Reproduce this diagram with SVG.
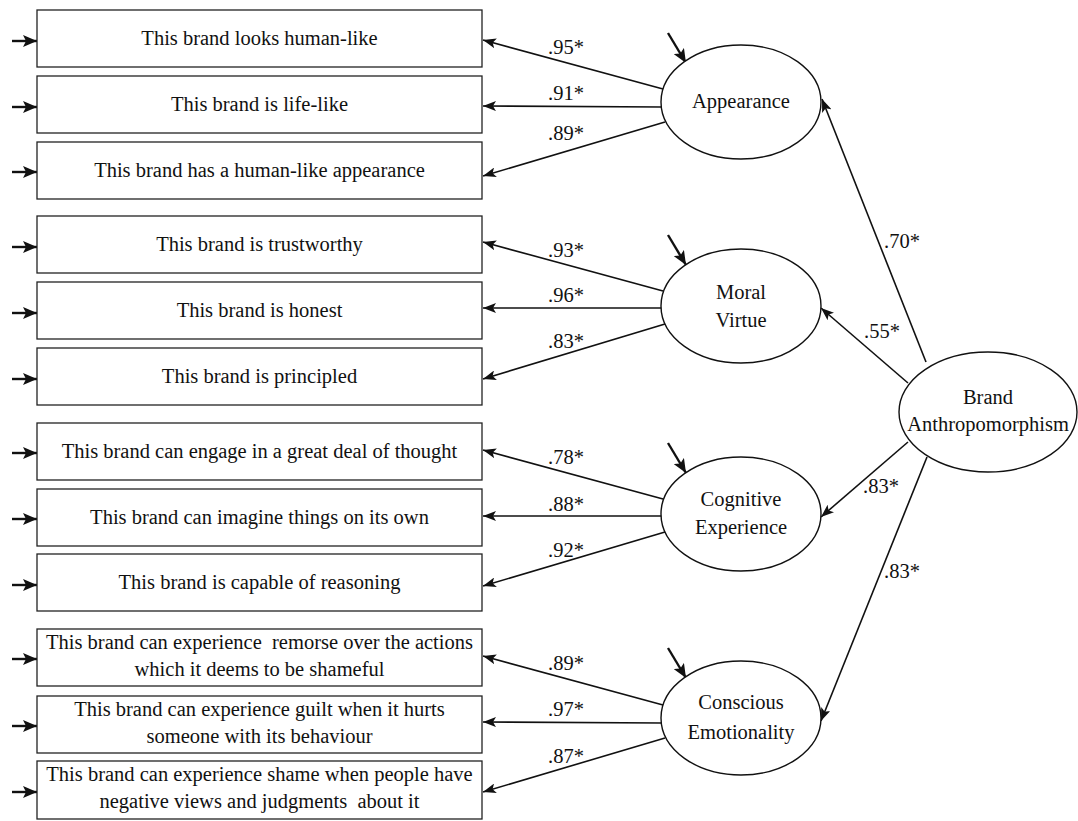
<svg xmlns="http://www.w3.org/2000/svg" width="1078" height="821" viewBox="0 0 1078 821">
<style>
.box{fill:#fff;stroke:#222;stroke-width:1.3}
.ell{fill:#fff;stroke:#111;stroke-width:1.4}
.t{font-family:'Liberation Serif','DejaVu Serif','Noto Serif',serif;font-size:20.5px;fill:#111;text-anchor:middle;white-space:pre}
.lab{font-family:'Liberation Serif','DejaVu Serif','Noto Serif',serif;font-size:20.5px;fill:#111}
.ln{stroke:#111;stroke-width:1.6;fill:none;marker-end:url(#ah)}
.err{stroke:#111;stroke-width:2.4;fill:none;marker-end:url(#ahb)}
</style>
<defs>
<marker id="ah" markerUnits="userSpaceOnUse" markerWidth="14" markerHeight="10" refX="13" refY="5" orient="auto">
<path d="M0,0 L13,5 L0,10 L3,5 z" fill="#111"/>
</marker>
<marker id="ahb" markerUnits="userSpaceOnUse" markerWidth="15" markerHeight="12" refX="14" refY="6" orient="auto">
<path d="M0,0 L14,6 L0,12 L3,6 z" fill="#111"/>
</marker>
</defs>
<rect width="1078" height="821" fill="#fff"/>

<g id="connectors">
<line class="err" x1="12" y1="41" x2="37" y2="41"/>
<line class="err" x1="12" y1="107" x2="37" y2="107"/>
<line class="err" x1="12" y1="172" x2="37" y2="172"/>
<line class="err" x1="12" y1="247" x2="37" y2="247"/>
<line class="err" x1="12" y1="313" x2="37" y2="313"/>
<line class="err" x1="12" y1="379" x2="37" y2="379"/>
<line class="err" x1="12" y1="453" x2="37" y2="453"/>
<line class="err" x1="12" y1="519" x2="37" y2="519"/>
<line class="err" x1="12" y1="585" x2="37" y2="585"/>
<line class="err" x1="12" y1="659" x2="37" y2="659"/>
<line class="err" x1="12" y1="726" x2="37" y2="726"/>
<line class="err" x1="12" y1="792" x2="37" y2="792"/>
<line class="err" x1="668" y1="33" x2="686" y2="63"/>
<line class="err" x1="668" y1="235" x2="686" y2="265"/>
<line class="err" x1="668" y1="443" x2="686" y2="473"/>
<line class="err" x1="668" y1="648" x2="686" y2="678"/>
<line class="ln" x1="663" y1="89" x2="483" y2="40"/>
<line class="ln" x1="662" y1="107" x2="483" y2="106"/>
<line class="ln" x1="665" y1="122" x2="483" y2="176"/>
<line class="ln" x1="663" y1="291" x2="483" y2="242"/>
<line class="ln" x1="662" y1="308" x2="483" y2="308"/>
<line class="ln" x1="665" y1="324" x2="483" y2="379"/>
<line class="ln" x1="663" y1="499" x2="483" y2="450"/>
<line class="ln" x1="662" y1="516" x2="483" y2="516"/>
<line class="ln" x1="665" y1="532" x2="483" y2="586"/>
<line class="ln" x1="663" y1="705" x2="483" y2="656"/>
<line class="ln" x1="662" y1="723" x2="483" y2="722"/>
<line class="ln" x1="665" y1="738" x2="483" y2="792"/>
<line class="ln" x1="926" y1="362" x2="822" y2="99"/>
<line class="ln" x1="908" y1="383" x2="821" y2="308"/>
<line class="ln" x1="908" y1="442" x2="821" y2="517"/>
<line class="ln" x1="927" y1="457" x2="821" y2="721"/>
</g>

<g id="labels">
<text class="lab" x="548" y="54">.95*</text>
<text class="lab" x="548" y="100">.91*</text>
<text class="lab" x="548" y="140">.89*</text>
<text class="lab" x="548" y="257">.93*</text>
<text class="lab" x="548" y="302">.96*</text>
<text class="lab" x="548" y="348">.83*</text>
<text class="lab" x="548" y="464">.78*</text>
<text class="lab" x="548" y="511">.88*</text>
<text class="lab" x="548" y="557">.92*</text>
<text class="lab" x="548" y="670">.89*</text>
<text class="lab" x="548" y="716">.97*</text>
<text class="lab" x="548" y="763">.87*</text>
<text class="lab" x="884" y="248">.70*</text>
<text class="lab" x="864" y="338">.55*</text>
<text class="lab" x="863" y="493">.83*</text>
<text class="lab" x="884" y="578">.83*</text>
</g>

<g id="item1"><rect class="box" x="37" y="10" width="445" height="57"/><text class="t" x="259.5" y="45">This brand looks human-like</text></g>
<g id="item2"><rect class="box" x="37" y="76" width="445" height="57"/><text class="t" x="259.5" y="111">This brand is life-like</text></g>
<g id="item3"><rect class="box" x="37" y="142" width="445" height="57"/><text class="t" x="259.5" y="177">This brand has a human-like appearance</text></g>
<g id="item4"><rect class="box" x="37" y="216" width="445" height="57"/><text class="t" x="259.5" y="251">This brand is trustworthy</text></g>
<g id="item5"><rect class="box" x="37" y="282" width="445" height="57"/><text class="t" x="259.5" y="317">This brand is honest</text></g>
<g id="item6"><rect class="box" x="37" y="348" width="445" height="57"/><text class="t" x="259.5" y="383">This brand is principled</text></g>
<g id="item7"><rect class="box" x="37" y="423" width="445" height="57"/><text class="t" x="259.5" y="458">This brand can engage in a great deal of thought</text></g>
<g id="item8"><rect class="box" x="37" y="489" width="445" height="57"/><text class="t" x="259.5" y="524">This brand can imagine things on its own</text></g>
<g id="item9"><rect class="box" x="37" y="554" width="445" height="57"/><text class="t" x="259.5" y="589">This brand is capable of reasoning</text></g>
<g id="item10"><rect class="box" x="37" y="629" width="445" height="57"/><text class="t" x="259.5" y="649">This brand can experience  remorse over the actions</text><text class="t" x="259.5" y="676">which it deems to be shameful</text></g>
<g id="item11"><rect class="box" x="37" y="696" width="445" height="57"/><text class="t" x="259.5" y="716">This brand can experience guilt when it hurts</text><text class="t" x="259.5" y="743">someone with its behaviour</text></g>
<g id="item12"><rect class="box" x="37" y="761" width="445" height="58"/><text class="t" x="259.5" y="781">This brand can experience shame when people have</text><text class="t" x="259.5" y="808">negative views and judgments  about it</text></g>

<g id="appearance"><ellipse class="ell" cx="741" cy="102" rx="80" ry="57"/><text class="t" x="741" y="108">Appearance</text></g>
<g id="moral"><ellipse class="ell" cx="741" cy="306" rx="80" ry="57"/><text class="t" x="741" y="299">Moral</text><text class="t" x="741" y="327">Virtue</text></g>
<g id="cognitive"><ellipse class="ell" cx="741" cy="514" rx="80" ry="57"/><text class="t" x="741" y="506">Cognitive</text><text class="t" x="741" y="534">Experience</text></g>
<g id="conscious"><ellipse class="ell" cx="741" cy="718" rx="80" ry="57"/><text class="t" x="741" y="709">Conscious</text><text class="t" x="741" y="739">Emotionality</text></g>
<g id="brand"><ellipse class="ell" cx="988" cy="412" rx="89" ry="60"/><text class="t" x="988" y="404">Brand</text><text class="t" x="988" y="431">Anthropomorphism</text></g>
</svg>
